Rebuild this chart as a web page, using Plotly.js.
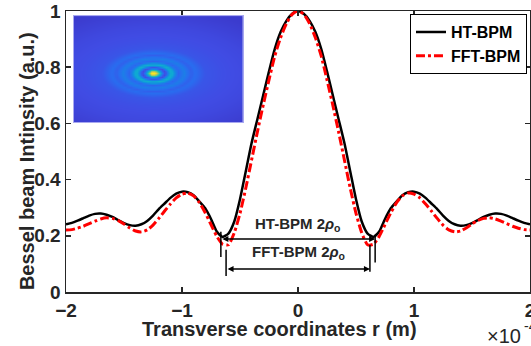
<!DOCTYPE html>
<html><head><meta charset="utf-8">
<script src="https://cdn.plot.ly/plotly-3.0.1.min.js"></script>
<style>html,body{margin:0;padding:0;background:#fff}#chart{width:531px;height:346px}</style>
</head><body><div id="chart"></div>
<script>
// Transverse coordinate r (units of 1e-4 m)
const rCoord = [-2,-1.95,-1.9,-1.85,-1.8,-1.75,-1.7,-1.65,-1.6,-1.55,-1.5,-1.45,-1.4,-1.35,-1.3,-1.25,-1.2,-1.15,-1.1,-1.05,
  -1,-0.95,-0.9,-0.85,-0.8,-0.75,-0.7,-0.65,-0.6,-0.55,-0.5,-0.45,-0.4,-0.35,-0.3,-0.25,-0.2,-0.15,-0.1,-0.05,
  0,0.05,0.1,0.15,0.2,0.25,0.3,0.35,0.4,0.45,0.5,0.55,0.6,0.65,0.7,0.75,0.8,0.85,0.9,0.95,
  1,1.05,1.1,1.15,1.2,1.25,1.3,1.35,1.4,1.45,1.5,1.55,1.6,1.65,1.7,1.75,1.8,1.85,1.9,1.95,2];
// HT-BPM intensity
const htBpm = [0.241,0.246,0.254,0.263,0.272,0.278,0.279,0.275,0.267,0.256,0.245,0.238,0.236,0.241,0.253,0.272,0.295,0.315,0.335,0.350,
  0.357,0.355,0.344,0.322,0.298,0.260,0.215,0.196,0.208,0.250,0.330,0.430,0.530,0.615,0.700,0.785,0.865,0.925,0.965,0.990,
  1.000,0.990,0.965,0.925,0.865,0.785,0.700,0.615,0.530,0.430,0.330,0.250,0.208,0.196,0.215,0.260,0.298,0.322,0.344,0.355,
  0.357,0.350,0.335,0.315,0.295,0.272,0.253,0.241,0.236,0.238,0.245,0.256,0.267,0.275,0.279,0.278,0.272,0.263,0.254,0.246,0.241];
// FFT-BPM intensity
const fftBpm = [0.221,0.222,0.227,0.234,0.243,0.252,0.260,0.264,0.262,0.254,0.242,0.228,0.217,0.214,0.221,0.238,0.262,0.288,0.313,0.335,
  0.348,0.352,0.342,0.318,0.282,0.240,0.198,0.170,0.168,0.210,0.280,0.370,0.470,0.570,0.665,0.755,0.840,0.905,0.955,0.988,
  1.000,0.988,0.955,0.905,0.840,0.755,0.665,0.570,0.470,0.370,0.280,0.210,0.168,0.170,0.198,0.240,0.282,0.318,0.342,0.352,
  0.348,0.335,0.313,0.288,0.262,0.238,0.221,0.214,0.217,0.228,0.242,0.254,0.262,0.264,0.260,0.252,0.243,0.234,0.227,0.222,0.221];
const xTickVals = [-2,-1,0,1,2];
const yTickVals = [0,0.2,0.4,0.6,0.8,1];
// Beam spot radii rho_o (units of 1e-4 m) marked by the dimension arrows
const rhoHT = 0.665;
const rhoFFT = 0.62;
// Inset: radial intensity profile of the beam image (radius in px, horizontal)
const insetR = [0,2,4,6,8,10,12,14,16,18,20,22,25,28,31,34,38,42,46,52,70,100,140];
const insetI = [1.0,0.92,0.72,0.48,0.28,0.12,0.07,0.15,0.3,0.38,0.33,0.22,0.13,0.16,0.21,0.16,0.12,0.15,0.13,0.1,0.085,0.07,0.04];

const FONT = 'Liberation Sans, Arial, sans-serif';
const AX = '#262626';

function profileAt(r){
  for(let i=1;i<insetR.length;i++){
    if(r<=insetR[i]){const t=(r-insetR[i-1])/(insetR[i]-insetR[i-1]);return insetI[i-1]+t*(insetI[i]-insetI[i-1]);}
  }
  return insetI[insetI.length-1];
}
const nx=85, ny=53, cx=39.5, cy=24, cell=2, ratio=2.1;
const zImg=[];
for(let j=0;j<ny;j++){const row=[];for(let i=0;i<nx;i++){const dx=(i-cx)*cell, dy=(j-cy)*cell*ratio;row.push(profileAt(Math.hypot(dx,dy)));}zImg.push(row);}

const parula=[[0,'rgb(53,42,135)'],[0.03,'rgb(58,55,200)'],[0.08,'rgb(64,76,228)'],[0.15,'rgb(40,110,240)'],[0.25,'rgb(20,140,225)'],
  [0.35,'rgb(15,170,210)'],[0.45,'rgb(30,190,180)'],[0.55,'rgb(90,200,140)'],[0.7,'rgb(180,200,90)'],[0.85,'rgb(245,215,50)'],[1,'rgb(249,251,14)']];

const traces=[
  {x:rCoord,y:htBpm,type:'scatter',mode:'lines',name:'HT-BPM',line:{color:'#000',width:2.5,shape:'spline',smoothing:0.6}},
  {x:rCoord,y:fftBpm,type:'scatter',mode:'lines',name:'FFT-BPM',line:{color:'#ff0000',width:3,dash:'dashdot',shape:'spline',smoothing:0.6}},
  {z:zImg,type:'heatmap',xaxis:'x2',yaxis:'y2',colorscale:parula,zmin:0,zmax:1,zsmooth:'best',showscale:false,showlegend:false,hoverinfo:'skip'}
];

const tf={family:FONT,size:19,color:AX,weight:'bold'};
const layout={
  width:531,height:346,margin:{l:66,r:1,t:11,b:54},
  paper_bgcolor:'#fff',plot_bgcolor:'#fff',
  font:{family:FONT,color:AX},
  xaxis:{range:[-2,2],tickvals:xTickVals,ticks:'inside',ticklen:5,tickwidth:1.5,tickcolor:AX,showline:true,mirror:'ticks',
    linecolor:AX,linewidth:1.5,tickfont:tf,showgrid:false,zeroline:false,ticklabeloverflow:'allow',ticklabelstandoff:1},
  yaxis:{range:[0,1],tickvals:yTickVals,ticks:'inside',ticklen:5,tickwidth:1.5,tickcolor:AX,showline:true,mirror:'ticks',
    linecolor:AX,linewidth:1.5,tickfont:tf,showgrid:false,zeroline:false,ticklabeloverflow:'allow'},
  xaxis2:{domain:[0.017,0.381],anchor:'y2',range:[-0.5,nx-0.5],showline:true,mirror:true,linecolor:'#a8a8f0',linewidth:1,
    showticklabels:false,ticks:'',showgrid:false,zeroline:false},
  yaxis2:{domain:[0.605,0.982],anchor:'x2',range:[-0.5,ny-0.5],showline:true,mirror:true,linecolor:'#a8a8f0',linewidth:1,
    showticklabels:false,ticks:'',showgrid:false,zeroline:false},
  showlegend:true,
  legend:{x:0.9935,y:0.989,xanchor:'right',yanchor:'top',bordercolor:'#000',borderwidth:1,bgcolor:'#fff',
    font:{family:FONT,size:16,color:'#000',weight:'bold'},itemwidth:30,tracegroupgap:0},
  annotations:[
    {text:'Transverse coordinates r (m)',xref:'paper',yref:'paper',x:0.46,y:-0.132,showarrow:false,xanchor:'center',yanchor:'middle',
      font:{family:FONT,size:20,color:AX,weight:'bold'}},
    {text:'Bessel beam Intinsity (a.u.)',xref:'paper',yref:'paper',x:-0.084,y:0.466,textangle:-90,showarrow:false,xanchor:'center',yanchor:'middle',
      font:{family:FONT,size:20,color:AX,weight:'bold'}},
    {text:'×10',xref:'paper',yref:'paper',x:0.903,y:-0.156,showarrow:false,xanchor:'left',yanchor:'middle',
      font:{family:FONT,size:20,color:AX}},
    {text:'-4',xref:'paper',yref:'paper',x:0.982,y:-0.12,showarrow:false,xanchor:'left',yanchor:'middle',
      font:{family:FONT,size:14,color:AX}},
    {text:'HT-BPM 2<i>ρ</i><sub>o</sub>',x:0,y:0.239,showarrow:false,xanchor:'center',yanchor:'middle',font:{family:FONT,size:15,color:AX,weight:'bold'}},
    {text:'FFT-BPM 2<i>ρ</i><sub>o</sub>',x:0,y:0.139,showarrow:false,xanchor:'center',yanchor:'middle',font:{family:FONT,size:15,color:AX,weight:'bold'}},
    {text:'',x:rhoHT,y:0.189,ax:-rhoHT,ay:0.189,axref:'x',ayref:'y',showarrow:true,arrowside:'end+start',arrowhead:2,arrowsize:0.8,arrowwidth:1.5,arrowcolor:'#000',standoff:0,startstandoff:0},
    {text:'',x:rhoFFT,y:0.082,ax:-rhoFFT,ay:0.082,axref:'x',ayref:'y',showarrow:true,arrowside:'end+start',arrowhead:2,arrowsize:0.8,arrowwidth:1.5,arrowcolor:'#000',standoff:0,startstandoff:0}
  ],
  shapes:[
    {type:'line',x0:-rhoHT,x1:-rhoHT,y0:0.125,y1:0.214,line:{color:'#000',width:1.5}},
    {type:'line',x0:rhoHT,x1:rhoHT,y0:0.105,y1:0.2,line:{color:'#000',width:1.5}},
    {type:'line',x0:-rhoFFT,x1:-rhoFFT,y0:0.057,y1:0.15,line:{color:'#000',width:1.5}},
    {type:'line',x0:rhoFFT,x1:rhoFFT,y0:0.072,y1:0.167,line:{color:'#000',width:1.5}}
  ]
};
Plotly.newPlot('chart',traces,layout,{staticPlot:true,displayModeBar:false});
</script></body></html>
